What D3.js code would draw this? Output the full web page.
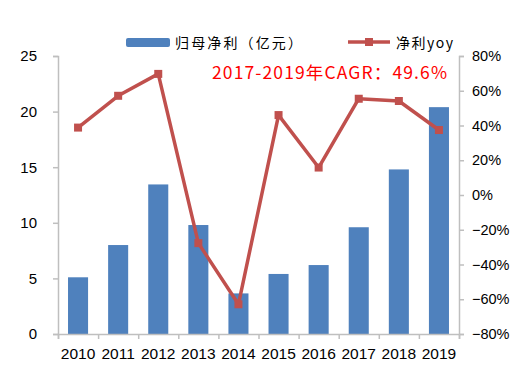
<!DOCTYPE html>
<html><head><meta charset="utf-8">
<script src="https://cdn.jsdelivr.net/npm/d3@7/dist/d3.min.js"></script>
<style>body{margin:0;background:#fff}svg{display:block}</style>
</head><body>
<svg id="c" width="510" height="371"></svg>
<script>
const years = ["2010","2011","2012","2013","2014","2015","2016","2017","2018","2019"];
const profit = [5.1, 8.0, 13.45, 9.8, 3.65, 5.4, 6.2, 9.6, 14.8, 20.4];
const yoy = [38.8, 57.1, 69.7, -27.7, -62.9, 46.0, 15.8, 55.4, 54.1, 37.4];
const leftTicks = [0,5,10,15,20,25];
const rightTicks = [-80,-60,-40,-20,0,20,40,60,80];
const barName = "归母净利（亿元）";
const lineName = "净利yoy";
const note = "2017-2019年CAGR：49.6%";

const svg = d3.select("#c");
const L = 58, R = 459, T = 56, B = 334;
const x = d3.scaleBand().domain(years).range([L, R]).paddingInner(0.5).paddingOuter(0.25);
const yL = d3.scaleLinear().domain([0,25]).range([B, T]);
const yR = d3.scaleLinear().domain([-80,80]).range([B, T]);
const axisColor = "#BFBFBF";
const tickFont = "'Liberation Sans', Arial, sans-serif";

// bars
svg.append("g").selectAll("rect").data(profit).join("rect")
  .attr("x",(d,i)=>x(years[i])).attr("width",x.bandwidth())
  .attr("y",d=>yL(d)).attr("height",d=>B-yL(d)).attr("fill","#4F81BD");

// axes
const gL = svg.append("g").attr("transform",`translate(${L},0)`)
  .call(d3.axisLeft(yL).tickValues(leftTicks).tickSize(5).tickPadding(16));
const gR = svg.append("g").attr("transform",`translate(${R},0)`)
  .call(d3.axisRight(yR).tickValues(rightTicks).tickSize(5).tickPadding(8).tickFormat(d=>(d<0?"\u2212"+(-d):d)+"%"));
const xb = d3.scaleLinear().domain([0,10]).range([L,R]);
const gB = svg.append("g").attr("transform",`translate(0,${B})`)
  .call(d3.axisBottom(xb).tickValues(d3.range(0,11)).tickSize(5).tickFormat(""));
[gL,gR,gB].forEach(g=>{
  g.select(".domain").attr("stroke",axisColor).attr("stroke-width",1.5);
  g.selectAll(".tick line").attr("stroke",axisColor).attr("stroke-width",1.5);
  g.selectAll("text").attr("font-family",tickFont).attr("font-size",15).attr("fill","#000");
});
gR.selectAll("text").attr("font-size",14.5);
svg.append("g").selectAll("text").data(years).join("text")
  .attr("x",d=>x(d)+x.bandwidth()/2).attr("y",358.5)
  .attr("text-anchor","middle").attr("font-family",tickFont).attr("font-size",15.5).text(d=>d);

// line
const lc = "#C0504D";
const line = d3.line().x((d,i)=>x(years[i])+x.bandwidth()/2).y(d=>yR(d));
svg.append("path").datum(yoy).attr("d",line).attr("fill","none").attr("stroke",lc).attr("stroke-width",3.5).attr("stroke-linejoin","round");
svg.append("g").selectAll("rect").data(yoy).join("rect")
  .attr("x",(d,i)=>x(years[i])+x.bandwidth()/2-4).attr("y",d=>yR(d)-4)
  .attr("width",8).attr("height",8).attr("fill",lc);

// legend
const cjk = "'Noto Sans CJK SC', sans-serif";
svg.append("rect").attr("x",126).attr("y",38).attr("width",44).attr("height",9).attr("rx",2).attr("fill","#4F81BD");
svg.append("text").attr("x",175).attr("y",48).attr("font-family",cjk).attr("font-size",14).attr("textLength",127).text(barName);
svg.append("line").attr("x1",348).attr("x2",390).attr("y1",42).attr("y2",42).attr("stroke",lc).attr("stroke-width",3.5);
svg.append("rect").attr("x",365).attr("y",38).attr("width",8).attr("height",8).attr("fill",lc);
svg.append("text").attr("x",396).attr("y",48).attr("font-family",cjk).attr("font-size",14).attr("textLength",57).text(lineName);

// annotation
svg.append("text").attr("x",212).attr("y",79).attr("font-family",cjk).attr("font-size",17.5).attr("fill","#FF0000").attr("textLength",235).text(note);
</script>
</body></html>
